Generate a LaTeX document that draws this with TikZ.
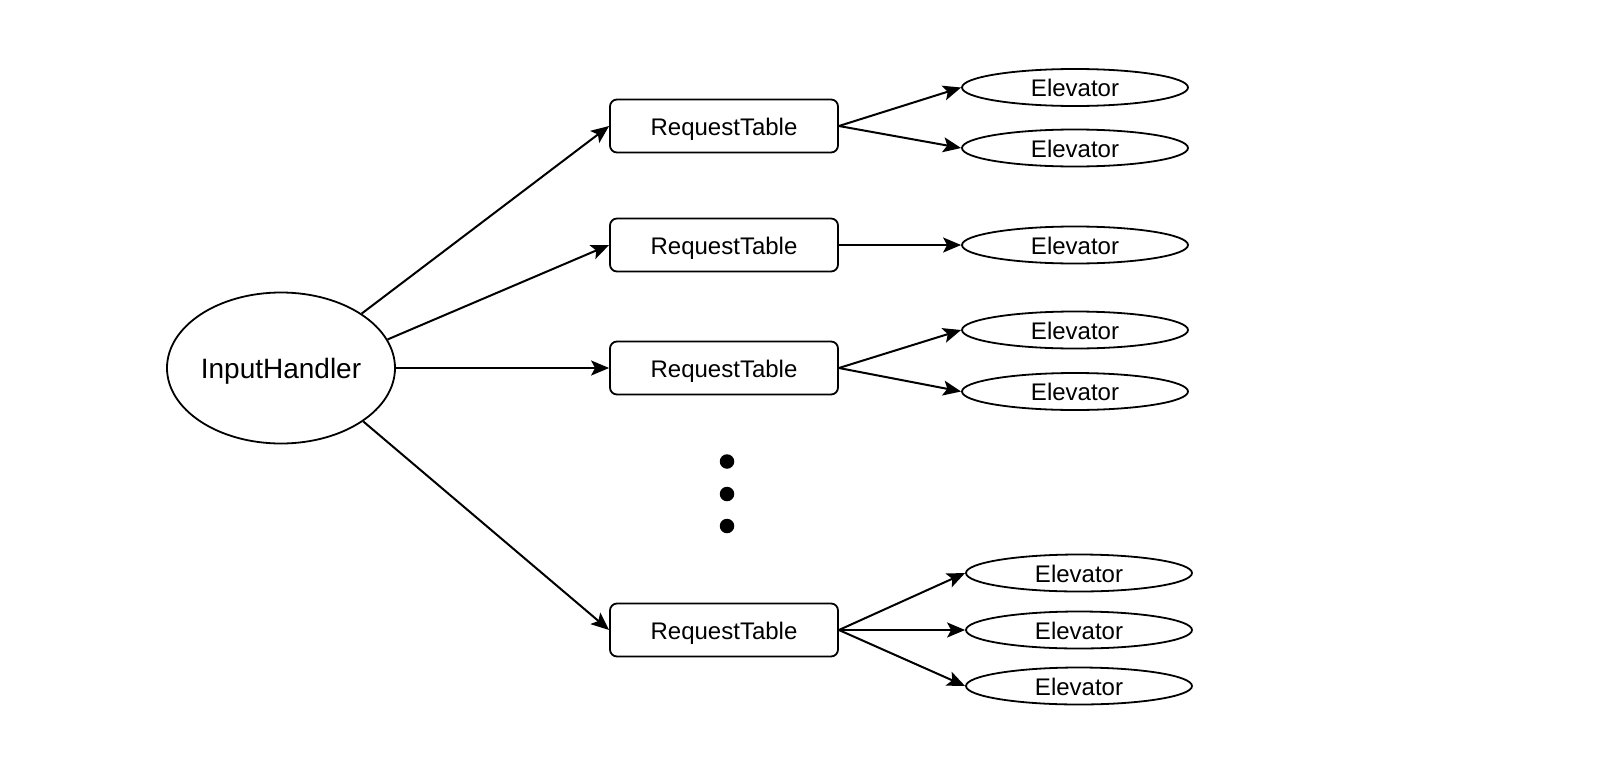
\documentclass[tikz,border=0pt]{standalone}
\usepackage{fontspec}
\setmainfont{Liberation Sans}
\usetikzlibrary{shapes.geometric,arrows.meta}
\tikzset{
  base/.style={draw=black, line width=1.8pt, inner sep=0pt, text=black, text depth=0pt},
  handler/.style={base, ellipse, minimum width=228pt, minimum height=151pt, text height=21pt, font=\fontsize{28}{32}\selectfont},
  table/.style={base, rectangle, rounded corners=7pt, minimum width=228pt, minimum height=53pt, text height=18pt, font=\fontsize{24}{28}\selectfont},
  elev/.style={base, ellipse, minimum width=226pt, minimum height=37pt, text height=18pt, font=\fontsize{24}{28}\selectfont},
  conn/.style={line width=2pt, -{Stealth[length=18pt, width=15pt, inset=4pt]}},
  dotmark/.style={circle, fill=black, inner sep=0pt, minimum size=14.5pt}
}
\begin{document}
\begin{tikzpicture}[x=1pt,y=-1pt]
\useasboundingbox (0,0) rectangle (1608,771);
\fill[white] (0,0) rectangle (1608,771);

\node[handler] (ih) at (281,368) {InputHandler};

\node[table] (t1) at (724,126) {RequestTable};
\node[table] (t2) at (724,245) {RequestTable};
\node[table] (t3) at (724,368) {RequestTable};
\node[table] (t4) at (724,630) {RequestTable};

\node[elev] (e1) at (1075,87.5) {Elevator};
\node[elev] (e2) at (1075,148) {Elevator};
\node[elev] (e3) at (1075,245) {Elevator};
\node[elev] (e4) at (1075,330) {Elevator};
\node[elev] (e5) at (1075,391.5) {Elevator};
\node[elev] (e6) at (1079,573) {Elevator};
\node[elev] (e7) at (1079,630) {Elevator};
\node[elev] (e8) at (1079,686) {Elevator};

\node[dotmark] (d1) at (727,461.5) {};
\node[dotmark] (d2) at (727,494) {};
\node[dotmark] (d3) at (727,526) {};

\draw[conn] (ih.34) -- (t1.west);
\draw[conn] (ih.15.5) -- (t2.west);
\draw[conn] (ih.east) -- (t3.west);
\draw[conn] (ih.-33.5) -- (t4.west);

\draw[conn] (t1.east) -- (e1.west);
\draw[conn] (t1.east) -- (e2.west);
\draw[conn] (t2.east) -- (e3.west);
\draw[conn] (t3.east) -- (e4.west);
\draw[conn] (t3.east) -- (e5.west);
\draw[conn] (t4.east) -- (e6.west);
\draw[conn] (t4.east) -- (e7.west);
\draw[conn] (t4.east) -- (e8.west);
\end{tikzpicture}
\end{document}
